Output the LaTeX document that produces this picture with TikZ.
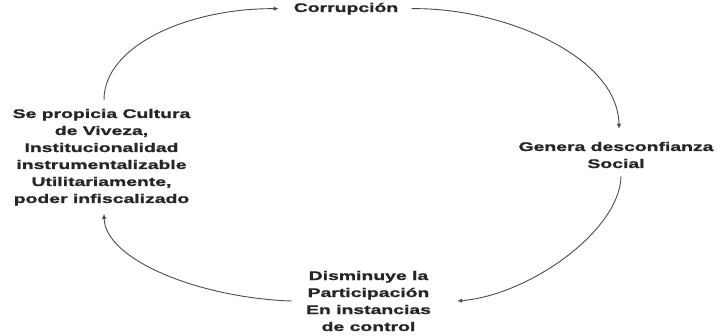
\documentclass[tikz,border=0pt]{standalone}
\usepackage{fontspec}
\setmainfont{Liberation Sans}[FakeStretch=1.55, BoldFeatures={FakeBold=1.2}]
\usetikzlibrary{arrows.meta}
\begin{document}
\begin{tikzpicture}[x=1pt,y=-1pt,
  lbl/.style={font=\bfseries\fontsize{12.5}{17}\selectfont, align=center, inner sep=0pt, text=black!85},
  arr/.style={draw=black!70, line width=0.9pt, -{Latex[length=5pt,width=4.5pt]}}]
\useasboundingbox[fill=white] (0,0) rectangle (722,336);
\node[lbl, anchor=base] (C) at (346,12) {Corrupción};
\node[lbl, anchor=base] (G) at (616,168) {Genera desconfianza\\Social};
\node[lbl, anchor=base] (L) at (101.5,203) {Se propicia Cultura\\de Viveza,\\Institucionalidad\\instrumentalizable\\Utilitariamente,\\poder infiscalizado};
\node[lbl, anchor=base] (D) at (368.5,331) {Disminuye la\\Participación\\En instancias\\de control};
\draw[arr] ([xshift=2.5pt,yshift=9pt]L.north) .. controls (104,45) and (190,8) .. ([xshift=-15pt]C.west);
\draw[arr] ([xshift=13pt]C.east) .. controls (500,7) and (618,55) .. ([xshift=3pt,yshift=13pt]G.north);
\draw[arr] ([xshift=5pt,yshift=-8pt]G.south) .. controls (620,230) and (530,295) .. ([xshift=26pt]D.east);
\draw[arr] ([xshift=-14pt]D.west) .. controls (200,298) and (105,260) .. ([xshift=2.5pt,yshift=-8pt]L.south);
\end{tikzpicture}
\end{document}
